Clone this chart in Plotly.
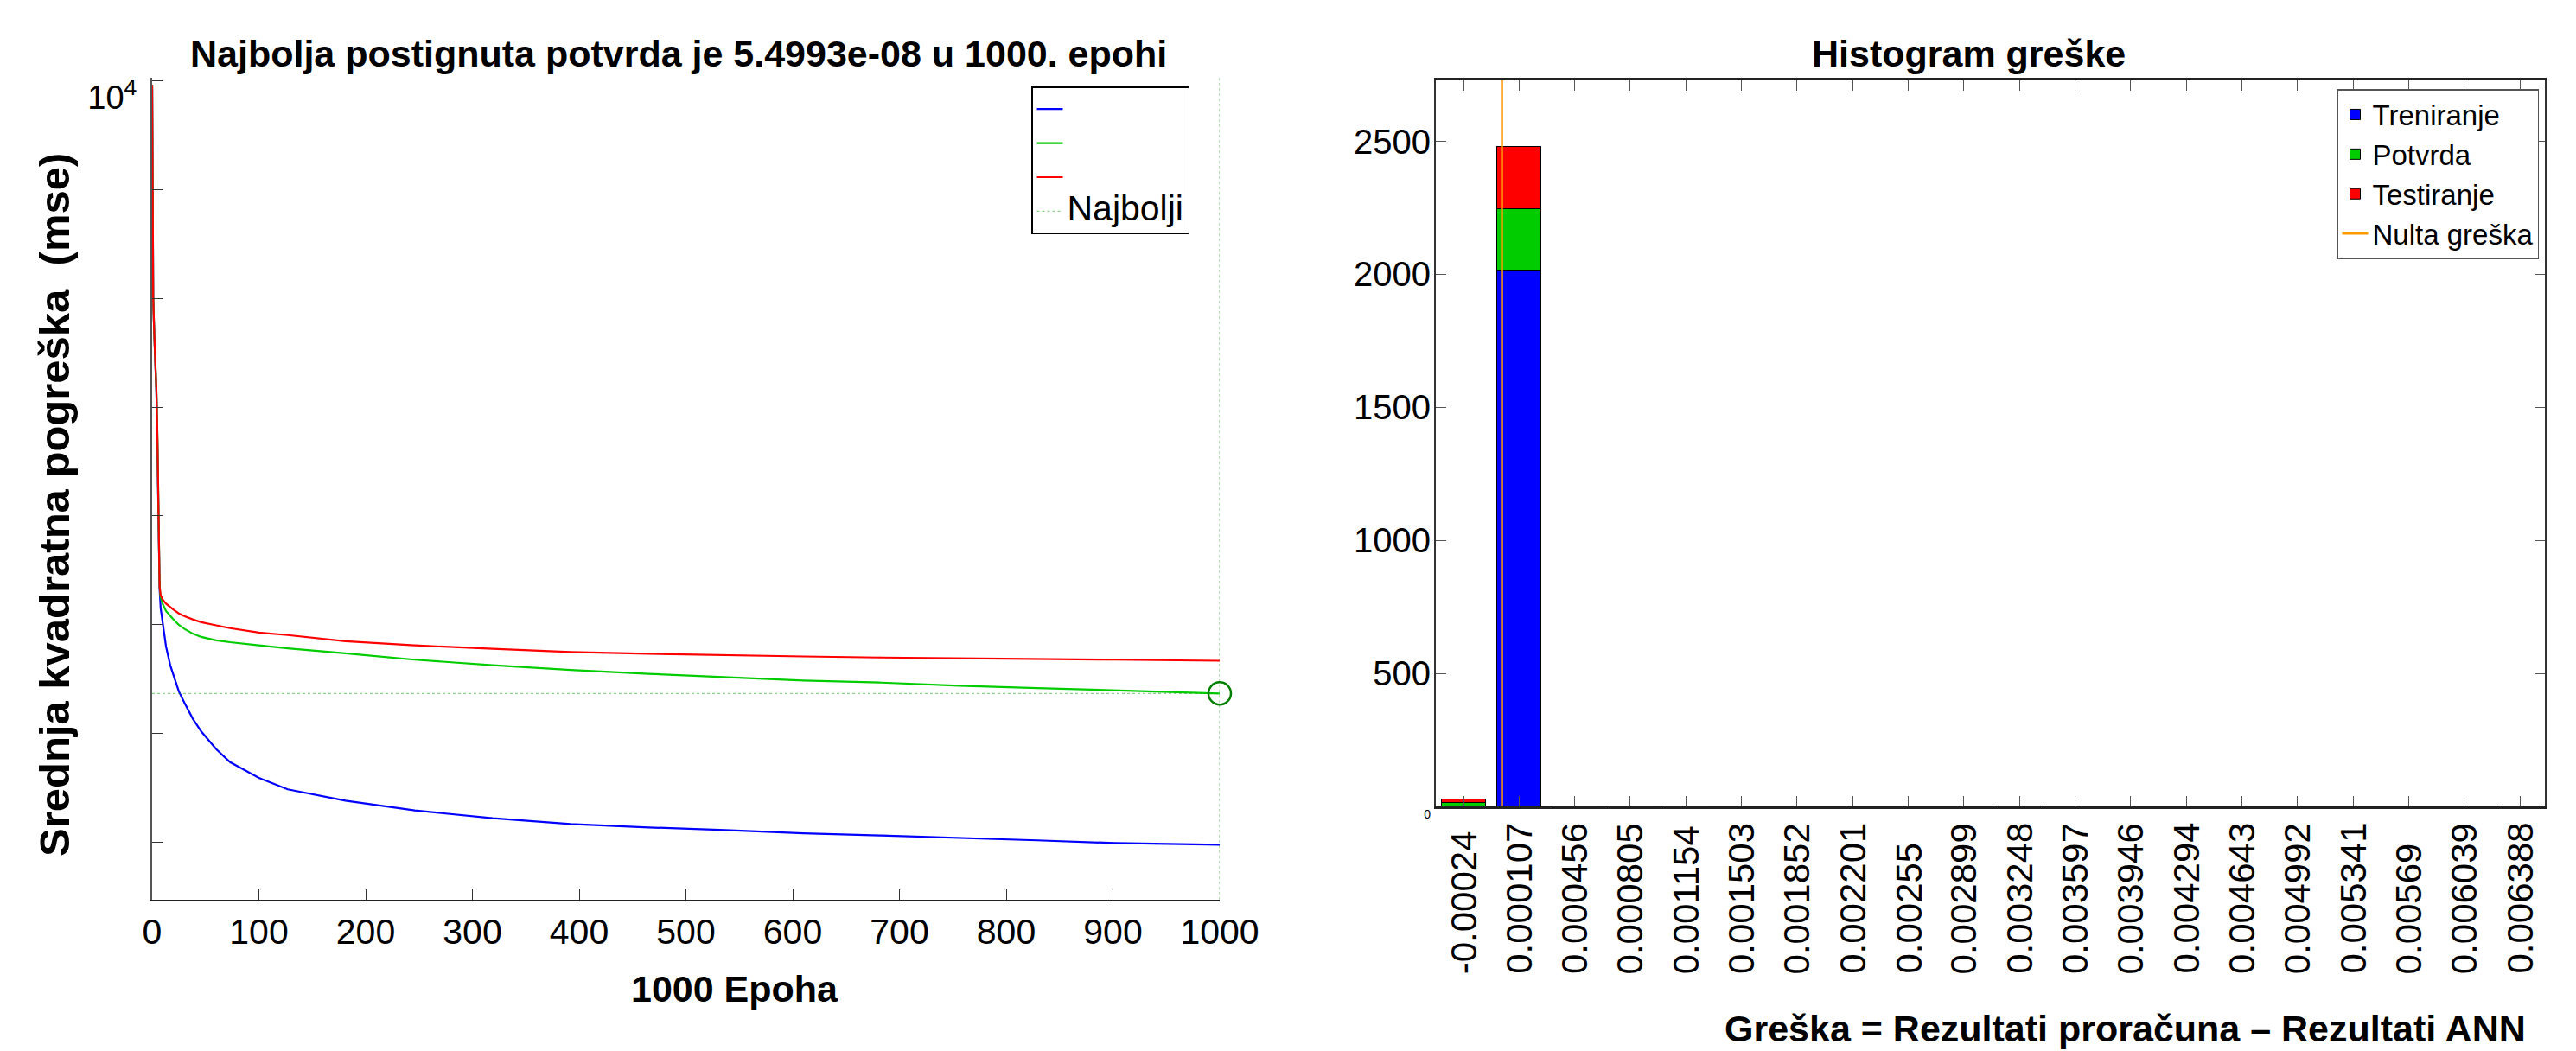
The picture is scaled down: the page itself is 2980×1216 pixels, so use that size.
import plotly.graph_objects as go

# ---------------- Left panel: training performance ----------------
epochs = [0, 1, 2, 3, 4, 5, 6, 7, 8, 10, 13, 17, 20, 25, 30, 38, 46, 60, 73, 100,
          127, 181, 246, 319, 392, 465, 537, 610, 683, 756, 829, 902, 1000]
mse_train = [8.3e3, 1.0, 2.2e-1, 7.9e-2, 1.8e-2, 1.6e-3, 3.2e-5, 4.5e-6, 2.0e-6, 1.0e-6,
             4.0e-7, 1.8e-7, 1.17e-7, 6.0e-8, 3.8e-8, 1.9e-8, 1.1e-8, 5.2e-9, 3.0e-9, 1.55e-9,
             9.5e-10, 5.9e-10, 3.9e-10, 2.8e-10, 2.2e-10, 1.9e-10, 1.7e-10, 1.48e-10, 1.35e-10,
             1.23e-10, 1.1e-10, 9.8e-11, 9.1e-11]
mse_valid = [8.3e3, 1.0, 2.2e-1, 7.9e-2, 2.0e-2, 2.5e-3, 5.0e-5, 5.0e-6, 3.2e-6, 2.4e-6,
             1.8e-6, 1.45e-6, 1.26e-6, 1.0e-6, 8.5e-7, 6.9e-7, 6.0e-7, 5.2e-7, 4.8e-7, 4.2e-7,
             3.7e-7, 3.0e-7, 2.29e-7, 1.82e-7, 1.48e-7, 1.26e-7, 1.1e-7, 9.5e-8, 8.7e-8,
             7.6e-8, 6.9e-8, 6.3e-8, 5.4993e-8]
mse_test = [8.3e3, 1.0, 2.2e-1, 7.9e-2, 2.0e-2, 2.5e-3, 5.0e-5, 5.0e-6, 3.5e-6, 2.9e-6,
            2.45e-6, 2.1e-6, 1.9e-6, 1.62e-6, 1.45e-6, 1.26e-6, 1.12e-6, 9.8e-7, 8.7e-7, 7.2e-7,
            6.5e-7, 5.0e-7, 4.2e-7, 3.63e-7, 3.16e-7, 2.95e-7, 2.75e-7, 2.63e-7, 2.51e-7,
            2.45e-7, 2.34e-7, 2.29e-7, 2.19e-7]
best_epoch = 1000
best_perf = 5.4993e-08
perf_log_range = [-11.05, 4.05]
epoch_ticks = [0, 100, 200, 300, 400, 500, 600, 700, 800, 900, 1000]
perf_tickvals = [1e4, 1e2, 1e0, 1e-2, 1e-4, 1e-6, 1e-8, 1e-10]
perf_ticktext = ["10<sup>4</sup>", "", "", "", "", "", "", ""]

# ---------------- Right panel: error histogram ----------------
bin_labels = ["-0.00024", "0.000107", "0.000456", "0.000805", "0.001154", "0.001503",
              "0.001852", "0.002201", "0.00255", "0.002899", "0.003248", "0.003597",
              "0.003946", "0.004294", "0.004643", "0.004992", "0.005341", "0.00569",
              "0.006039", "0.006388"]
count_train = [0, 2016, 0, 0, 0, 0, 0, 0, 0, 0, 0, 0, 0, 0, 0, 0, 0, 0, 0, 0]
count_valid = [16, 232, 3, 3, 3, 0, 0, 0, 0, 0, 2, 0, 0, 0, 0, 0, 0, 0, 0, 0]
count_test = [12, 233, 0, 0, 0, 0, 0, 0, 0, 0, 0, 0, 0, 0, 0, 0, 0, 0, 0, 2]
hist_tickvals = [0, 500, 1000, 1500, 2000, 2500]
hist_ticktext = ["<span style='font-size:14px'>0</span>", "500", "1000", "1500", "2000", "2500"]

FONT = "Liberation Sans, Arial, sans-serif"
# page body has an 8px margin: figure is 8px smaller and all positions shifted by 8px
OFF = 8
W, H = 2980 - OFF, 1216 - OFF

perf_ylim = [10 ** perf_log_range[0], 10 ** perf_log_range[1]]
bin_centers = [float(s) for s in bin_labels]
bin_w = bin_centers[1] - bin_centers[0]
bar_w = 0.8 * bin_w
totals = [a + b + c for a, b, c in zip(count_train, count_valid, count_test)]
hist_ymax = 1.1 * max(totals)

fig = go.Figure()

# left traces
fig.add_trace(go.Scatter(x=epochs, y=mse_train, mode="lines", name=" ",
                         line=dict(color="#0000FF", width=2.2), xaxis="x", yaxis="y", legend="legend"))
fig.add_trace(go.Scatter(x=epochs, y=mse_valid, mode="lines", name=" ",
                         line=dict(color="#00CC00", width=2.2), xaxis="x", yaxis="y", legend="legend"))
fig.add_trace(go.Scatter(x=epochs, y=mse_test, mode="lines", name=" ",
                         line=dict(color="#FF0000", width=2.2), xaxis="x", yaxis="y", legend="legend"))
fig.add_trace(go.Scatter(x=[0, best_epoch, None, best_epoch, best_epoch],
                         y=[best_perf, best_perf, None, perf_ylim[0], perf_ylim[1]],
                         mode="lines", name="<span style='font-size:41px'>Najbolji</span>",
                         line=dict(color="rgba(0,150,0,0.45)", width=1.3, dash="dot"),
                         xaxis="x", yaxis="y", legend="legend"))
fig.add_trace(go.Scatter(x=[best_epoch], y=[best_perf], mode="markers", showlegend=False,
                         marker=dict(symbol="circle-open", size=26, color="#008000",
                                     line=dict(width=2.5, color="#008000")),
                         cliponaxis=False, xaxis="x", yaxis="y"))

# right traces
for name, vals, col in [("Treniranje", count_train, "#0000FF"),
                        ("Potvrda", count_valid, "#00CC00"),
                        ("Testiranje", count_test, "#FF0000")]:
    fig.add_trace(go.Bar(x=bin_centers, y=vals, width=bar_w, name=name,
                         marker=dict(color=col, line=dict(color="black", width=1)),
                         xaxis="x2", yaxis="y2", legend="legend2"))
fig.add_trace(go.Scatter(x=[0, 0], y=[0, hist_ymax], mode="lines", name="Nulta greška",
                         line=dict(color="#FF9900", width=2.5), xaxis="x2", yaxis="y2",
                         legend="legend2"))

def px_x(p):
    return (p - OFF) / W

def px_y(p):
    return 1 - (p - OFF) / H

fig.update_layout(
    width=W, height=H,
    margin=dict(l=0, r=0, t=0, b=0, autoexpand=False),
    paper_bgcolor="white", plot_bgcolor="white",
    font=dict(family=FONT, color="black"),
    barmode="stack",
    showlegend=True,
    xaxis=dict(domain=[px_x(176), px_x(1411)], range=[0, 1000], tickvals=epoch_ticks,
               ticks="inside", ticklen=12, tickcolor="#333", tickwidth=1.2,
               showline=True, linecolor="#222", linewidth=2, showgrid=False, zeroline=False,
               tickfont=dict(size=41, family=FONT), anchor="y", automargin=False),
    yaxis=dict(domain=[px_y(1041), px_y(90)], type="log", range=perf_log_range,
               tickvals=perf_tickvals, ticktext=perf_ticktext,
               ticks="inside", ticklen=12, tickcolor="#333", tickwidth=1.2,
               showline=True, linecolor="#555", linewidth=2, showgrid=False, zeroline=False,
               tickfont=dict(size=38, family=FONT), ticklabelshift=20, ticklabelstandoff=8,
               anchor="x", automargin=False),
    xaxis2=dict(domain=[px_x(1661), px_x(2944)], range=[-0.0004153, 0.006545],
                tickvals=bin_centers, showticklabels=False,
                ticks="inside", ticklen=12, tickcolor="#555", tickwidth=1.2,
                showline=True, mirror="ticks", linecolor="#222", linewidth=2.5,
                showgrid=False, zeroline=False, anchor="y2", automargin=False),
    yaxis2=dict(domain=[px_y(933), px_y(93)], range=[0, hist_ymax],
                tickvals=hist_tickvals, ticktext=hist_ticktext,
                ticks="inside", ticklen=12, tickcolor="#555", tickwidth=1.2,
                showline=True, mirror="ticks", linecolor="#333", linewidth=2,
                showgrid=False, zeroline=False, tickfont=dict(size=40, family=FONT),
                ticklabelstandoff=-4, anchor="x2", automargin=False),
    legend=dict(x=px_x(1193), y=px_y(100), xanchor="left", yanchor="top",
                bgcolor="white", bordercolor="black", borderwidth=1.5,
                font=dict(size=28, family=FONT), tracegroupgap=0),
    legend2=dict(x=px_x(2937), y=px_y(103), xanchor="right", yanchor="top",
                 bgcolor="white", bordercolor="#555", borderwidth=1.5,
                 font=dict(size=33, family=FONT), tracegroupgap=0, traceorder="normal"),
)

annotations = [
    dict(text="<b>Najbolja postignuta potvrda je 5.4993e-08 u 1000. epohi</b>",
         x=px_x(785), y=px_y(62), xref="paper", yref="paper", showarrow=False,
         xanchor="center", yanchor="middle", font=dict(size=43, family=FONT)),
    dict(text="<b>Histogram greške</b>",
         x=px_x(2277), y=px_y(62), xref="paper", yref="paper", showarrow=False,
         xanchor="center", yanchor="middle", font=dict(size=43, family=FONT)),
    dict(text="<b>1000 Epoha</b>",
         x=px_x(850), y=px_y(1144), xref="paper", yref="paper", showarrow=False,
         xanchor="center", yanchor="middle", font=dict(size=43, family=FONT)),
    dict(text="<b>Srednja kvadratna pogreška  (mse)</b>",
         x=px_x(63), y=px_y(584), xref="paper", yref="paper", showarrow=False,
         xanchor="center", yanchor="middle", textangle=-90, font=dict(size=49, family=FONT)),
    dict(text="<b>Greška = Rezultati proračuna – Rezultati ANN</b>",
         x=px_x(2458), y=px_y(1190), xref="paper", yref="paper", showarrow=False,
         xanchor="center", yanchor="middle", font=dict(size=43, family=FONT)),
]
for lab, xc in zip(bin_labels, bin_centers):
    annotations.append(dict(text=lab, x=xc, y=px_y(1129), xref="x2", yref="paper",
                            showarrow=False, textangle=-90, xanchor="center", yanchor="bottom",
                            font=dict(size=42, family=FONT)))
fig.update_layout(annotations=annotations)

fig.write_html("out.html")
